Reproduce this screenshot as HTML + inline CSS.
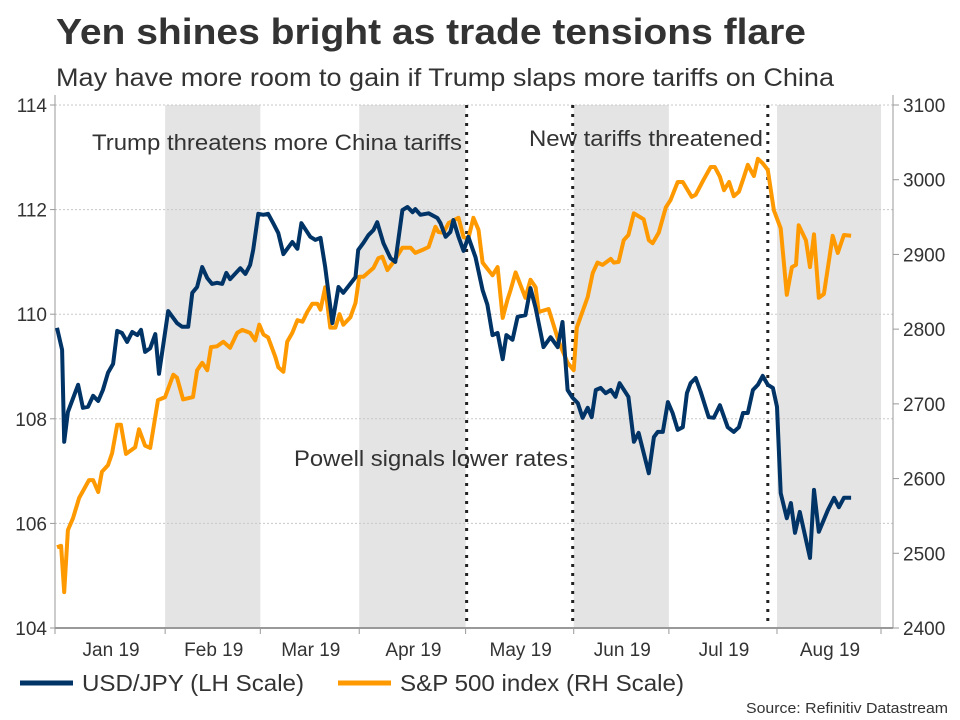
<!DOCTYPE html>
<html><head><meta charset="utf-8"><style>
body{margin:0;background:#fff;}
svg{display:block;font-family:"Liberation Sans",sans-serif;}
</style></head><body>
<svg id="chart" width="960" height="720">
<text x="56" y="44" font-size="36" font-weight="bold" fill="#333" textLength="750" lengthAdjust="spacingAndGlyphs">Yen shines bright as trade tensions flare</text>
<text x="56" y="86" font-size="25" fill="#333" textLength="778" lengthAdjust="spacingAndGlyphs">May have more room to gain if Trump slaps more tariffs on China</text>
<g id="shade"></g><g id="grid"></g><g id="vlines"></g>
<g id="axes"></g><g id="series"></g>
<text x="92" y="150" font-size="22" fill="#333" textLength="370" lengthAdjust="spacingAndGlyphs">Trump threatens more China tariffs</text>
<text x="529" y="146" font-size="22" fill="#333" textLength="234" lengthAdjust="spacingAndGlyphs">New tariffs threatened</text>
<text x="294" y="466" font-size="22" fill="#333" textLength="274" lengthAdjust="spacingAndGlyphs">Powell signals lower rates</text>
<g>
<line x1="20" y1="683" x2="73" y2="683" stroke="#003366" stroke-width="5"/>
<text x="82" y="691" font-size="23" fill="#333" textLength="222" lengthAdjust="spacingAndGlyphs">USD/JPY (LH Scale)</text>
<line x1="338" y1="683" x2="391" y2="683" stroke="#ff9900" stroke-width="5"/>
<text x="400" y="691" font-size="23" fill="#333" textLength="284" lengthAdjust="spacingAndGlyphs">S&amp;P 500 index (RH Scale)</text>
</g>
<text x="948" y="713" font-size="15" fill="#333" text-anchor="end" textLength="202" lengthAdjust="spacingAndGlyphs">Source: Refinitiv Datastream</text>
</svg>
<script>
const usdDays=[0.6,2.1,2.7,3.8,6.8,8.2,9.7,11.2,12.7,14.1,15.6,17.1,18.3,19.7,21.2,22.7,24.2,25.3,26.5,28.0,29.5,30.6,33.3,35.9,37.4,39.2,40.4,41.8,43.3,44.8,46.2,47.7,49.2,50.4,51.5,54.5,56.0,57.4,58.3,59.8,61.3,62.7,64.2,65.7,67.2,69.8,71.3,72.5,75.1,76.6,78.1,79.5,81.6,83.4,84.8,88.4,89.2,90.7,92.2,93.7,94.8,96.6,98.7,100.1,102.2,103.7,105.2,106.0,107.5,109.9,112.5,113.4,114.9,116.3,117.2,118.7,120.2,121.6,123.7,125.8,127.2,128.7,130.2,131.7,132.8,134.6,136.1,138.4,139.9,141.4,142.9,143.7,145.8,147.9,149.3,150.8,152.3,153.8,155.2,156.7,157.9,159.1,160.5,162.0,163.5,164.9,166.1,168.7,170.3,171.7,174.7,176.2,177.3,178.8,180.3,181.7,183.2,184.7,185.9,187.0,188.5,190.0,192.3,193.8,195.6,197.9,199.7,201.2,202.4,203.8,205.3,206.8,208.2,209.7,211.2,212.4,213.5,215.3,216.5,217.7,219.1,222.1,223.3,224.7,227.4,229.2,230.6,232.1,234.2];
const usdValues=[109.74,109.32,107.56,108.13,108.65,108.21,108.23,108.44,108.34,108.55,108.88,109.05,109.68,109.64,109.47,109.66,109.60,109.70,109.28,109.35,109.62,108.86,110.06,109.83,109.76,109.76,110.41,110.52,110.90,110.69,110.58,110.60,110.58,110.79,110.67,110.88,110.77,110.94,111.23,111.92,111.90,111.92,111.74,111.55,111.15,111.38,111.25,111.74,111.48,111.42,111.46,110.90,109.83,110.52,110.41,110.71,111.23,111.36,111.51,111.61,111.76,111.36,111.07,111.00,111.99,112.05,111.95,112.01,111.90,111.93,111.84,111.74,111.48,111.57,111.80,111.48,111.21,111.48,111.09,110.46,110.18,109.60,109.64,109.14,109.60,109.51,109.95,109.98,110.50,110.12,109.64,109.37,109.56,109.37,109.85,108.55,108.40,108.30,108.02,108.21,108.03,108.55,108.59,108.49,108.55,108.42,108.68,108.42,107.56,107.73,106.96,107.65,107.75,107.75,108.32,108.11,107.79,107.84,108.49,108.68,108.78,108.51,108.03,108.02,108.26,107.84,107.75,107.84,108.11,108.11,108.55,108.65,108.82,108.65,108.59,108.23,106.58,106.10,106.39,105.82,106.22,105.34,106.64,105.84,106.26,106.49,106.31,106.49,106.49];
const spxDays=[0.6,1.8,2.7,3.8,5.3,7.1,10.0,11.2,12.7,13.8,15.6,16.8,18.3,19.4,20.9,23.6,24.7,26.5,28.0,30.3,32.4,34.8,35.9,37.7,40.6,41.8,43.3,44.8,45.9,47.7,49.5,51.5,53.6,55.1,57.4,58.9,60.1,61.3,62.7,64.8,65.7,67.2,68.3,69.8,71.3,72.8,74.2,75.7,77.2,78.1,79.5,81.0,82.5,83.7,84.8,86.9,88.4,89.5,90.7,92.2,93.7,95.1,96.3,97.8,99.6,102.2,104.6,106.0,108.1,109.9,111.9,112.8,114.3,115.8,118.7,120.2,121.6,123.1,124.6,125.8,128.7,130.2,131.7,133.1,134.0,135.5,138.4,139.9,141.4,142.3,145.2,148.2,150.8,152.6,153.5,156.7,158.2,159.6,161.1,163.5,164.4,165.8,167.3,168.7,170.3,173.2,174.7,175.8,177.6,179.7,181.1,183.2,184.7,187.3,188.5,190.8,192.9,194.1,195.6,196.8,198.3,199.7,201.2,202.7,203.8,205.6,206.8,208.2,209.7,211.5,213.5,215.3,216.8,218.0,218.8,220.9,222.1,223.3,224.7,226.2,228.8,230.3,232.1,234.2];
const spxValues=[2508,2510,2448,2531,2547,2574,2598,2598,2582,2609,2618,2634,2672,2672,2633,2642,2666,2644,2641,2705,2709,2739,2735,2706,2709,2745,2755,2745,2776,2777,2783,2775,2795,2799,2795,2785,2806,2793,2789,2763,2749,2743,2783,2795,2812,2810,2823,2834,2834,2826,2856,2802,2802,2820,2806,2816,2835,2870,2870,2876,2882,2895,2897,2879,2890,2909,2909,2902,2906,2910,2937,2930,2929,2942,2949,2923,2921,2949,2933,2889,2872,2883,2815,2839,2852,2876,2842,2866,2856,2823,2827,2783,2755,2745,2802,2843,2875,2889,2886,2894,2889,2890,2919,2926,2955,2947,2919,2915,2929,2963,2973,2997,2997,2977,2980,3000,3017,3017,3004,2986,2997,2978,2984,3004,3020,3005,3028,3022,3013,2959,2935,2846,2883,2886,2939,2919,2883,2927,2842,2847,2925,2902,2926,2925];
const monthStarts=[0,32.4,60.4,89.5,120.8,152.6,180.6,212.4,243];
const monthLabels=["Jan 19","Feb 19","Mar 19","Apr 19","May 19","Jun 19","Jul 19","Aug 19"];
const leftTicks=[104,106,108,110,112,114];
const rightTicks=[2400,2500,2600,2700,2800,2900,3000,3100];
const eventDays=[121.1,152.3,209.7];

const NS="http://www.w3.org/2000/svg";
const X0=55,X1=881,Y0=628,Y1=105,XR=893;
const xs=d=>X0+(d-monthStarts[0])*(X1-X0)/(monthStarts[8]-monthStarts[0]);
const yL=v=>Y0-(v-104)*(Y0-Y1)/10;
const yR=v=>Y0-(v-2400)*(Y0-Y1)/700;
function mk(tag,attrs,parent){const e=document.createElementNS(NS,tag);for(const k in attrs)e.setAttribute(k,attrs[k]);parent.appendChild(e);return e;}
const shade=document.getElementById('shade'),grid=document.getElementById('grid'),vl=document.getElementById('vlines'),axes=document.getElementById('axes'),ser=document.getElementById('series');
for(let i=1;i<8;i+=2){
 const r=mk('rect',{x:xs(monthStarts[i]),y:Y1,width:xs(monthStarts[i+1])-xs(monthStarts[i]),height:Y0-Y1,fill:'#e4e4e4'},shade);
 
 
}
leftTicks.forEach(t=>{
 if(t>104){const g=mk('line',{x1:X0,x2:XR,y1:yL(t),y2:yL(t),stroke:'#c8c8c8','stroke-dasharray':'2,2'},grid);
 
 }
 const tx=mk('text',{x:47,y:yL(t)+7,'font-size':19,fill:'#333','text-anchor':'end'},axes);tx.textContent=t;
 
 
 mk('line',{x1:X0-5,x2:X0,y1:yL(t),y2:yL(t),stroke:'#999'},axes);
});
rightTicks.forEach(t=>{
 const tx=mk('text',{x:903,y:yR(t)+7,'font-size':19,fill:'#333'},axes);tx.textContent=t;
 
 
 mk('line',{x1:XR,x2:XR+6,y1:yR(t),y2:yR(t),stroke:'#999'},axes);
});
eventDays.forEach(d=>{
 const l=mk('line',{x1:xs(d),x2:xs(d),y1:Y1,y2:Y0,stroke:'#222','stroke-width':3,'stroke-dasharray':'3,6'},vl);
 
 
});
mk('line',{x1:X0,x2:X0,y1:Y1-10,y2:Y0,stroke:'#999'},axes);
mk('line',{x1:XR,x2:XR,y1:Y1-10,y2:Y0,stroke:'#999'},axes);
const xa=mk('line',{x1:X0,x2:XR,y1:Y0,y2:Y0,stroke:'#999','stroke-width':2},axes);


monthStarts.forEach((m,i)=>{
 mk('line',{x1:xs(m),x2:xs(m),y1:Y0,y2:Y0+6,stroke:'#999'},axes);
 if(i<8){const tx=mk('text',{x:(xs(m)+xs(monthStarts[i+1]))/2+1,y:656,'font-size':19,fill:'#333','text-anchor':'middle'},axes);tx.textContent=monthLabels[i];
 
 }
});
function line(days,vals,sc,color,name){
 const p=mk('polyline',{points:days.map((d,i)=>xs(d).toFixed(1)+','+sc(vals[i]).toFixed(1)).join(' '),fill:'none',stroke:color,'stroke-width':4,'stroke-linejoin':'round'},ser);
 
 
}
line(spxDays,spxValues,yR,'#ff9900','spx-line');
line(usdDays,usdValues,yL,'#003366','usdjpy-line');
</script>
</body></html>
